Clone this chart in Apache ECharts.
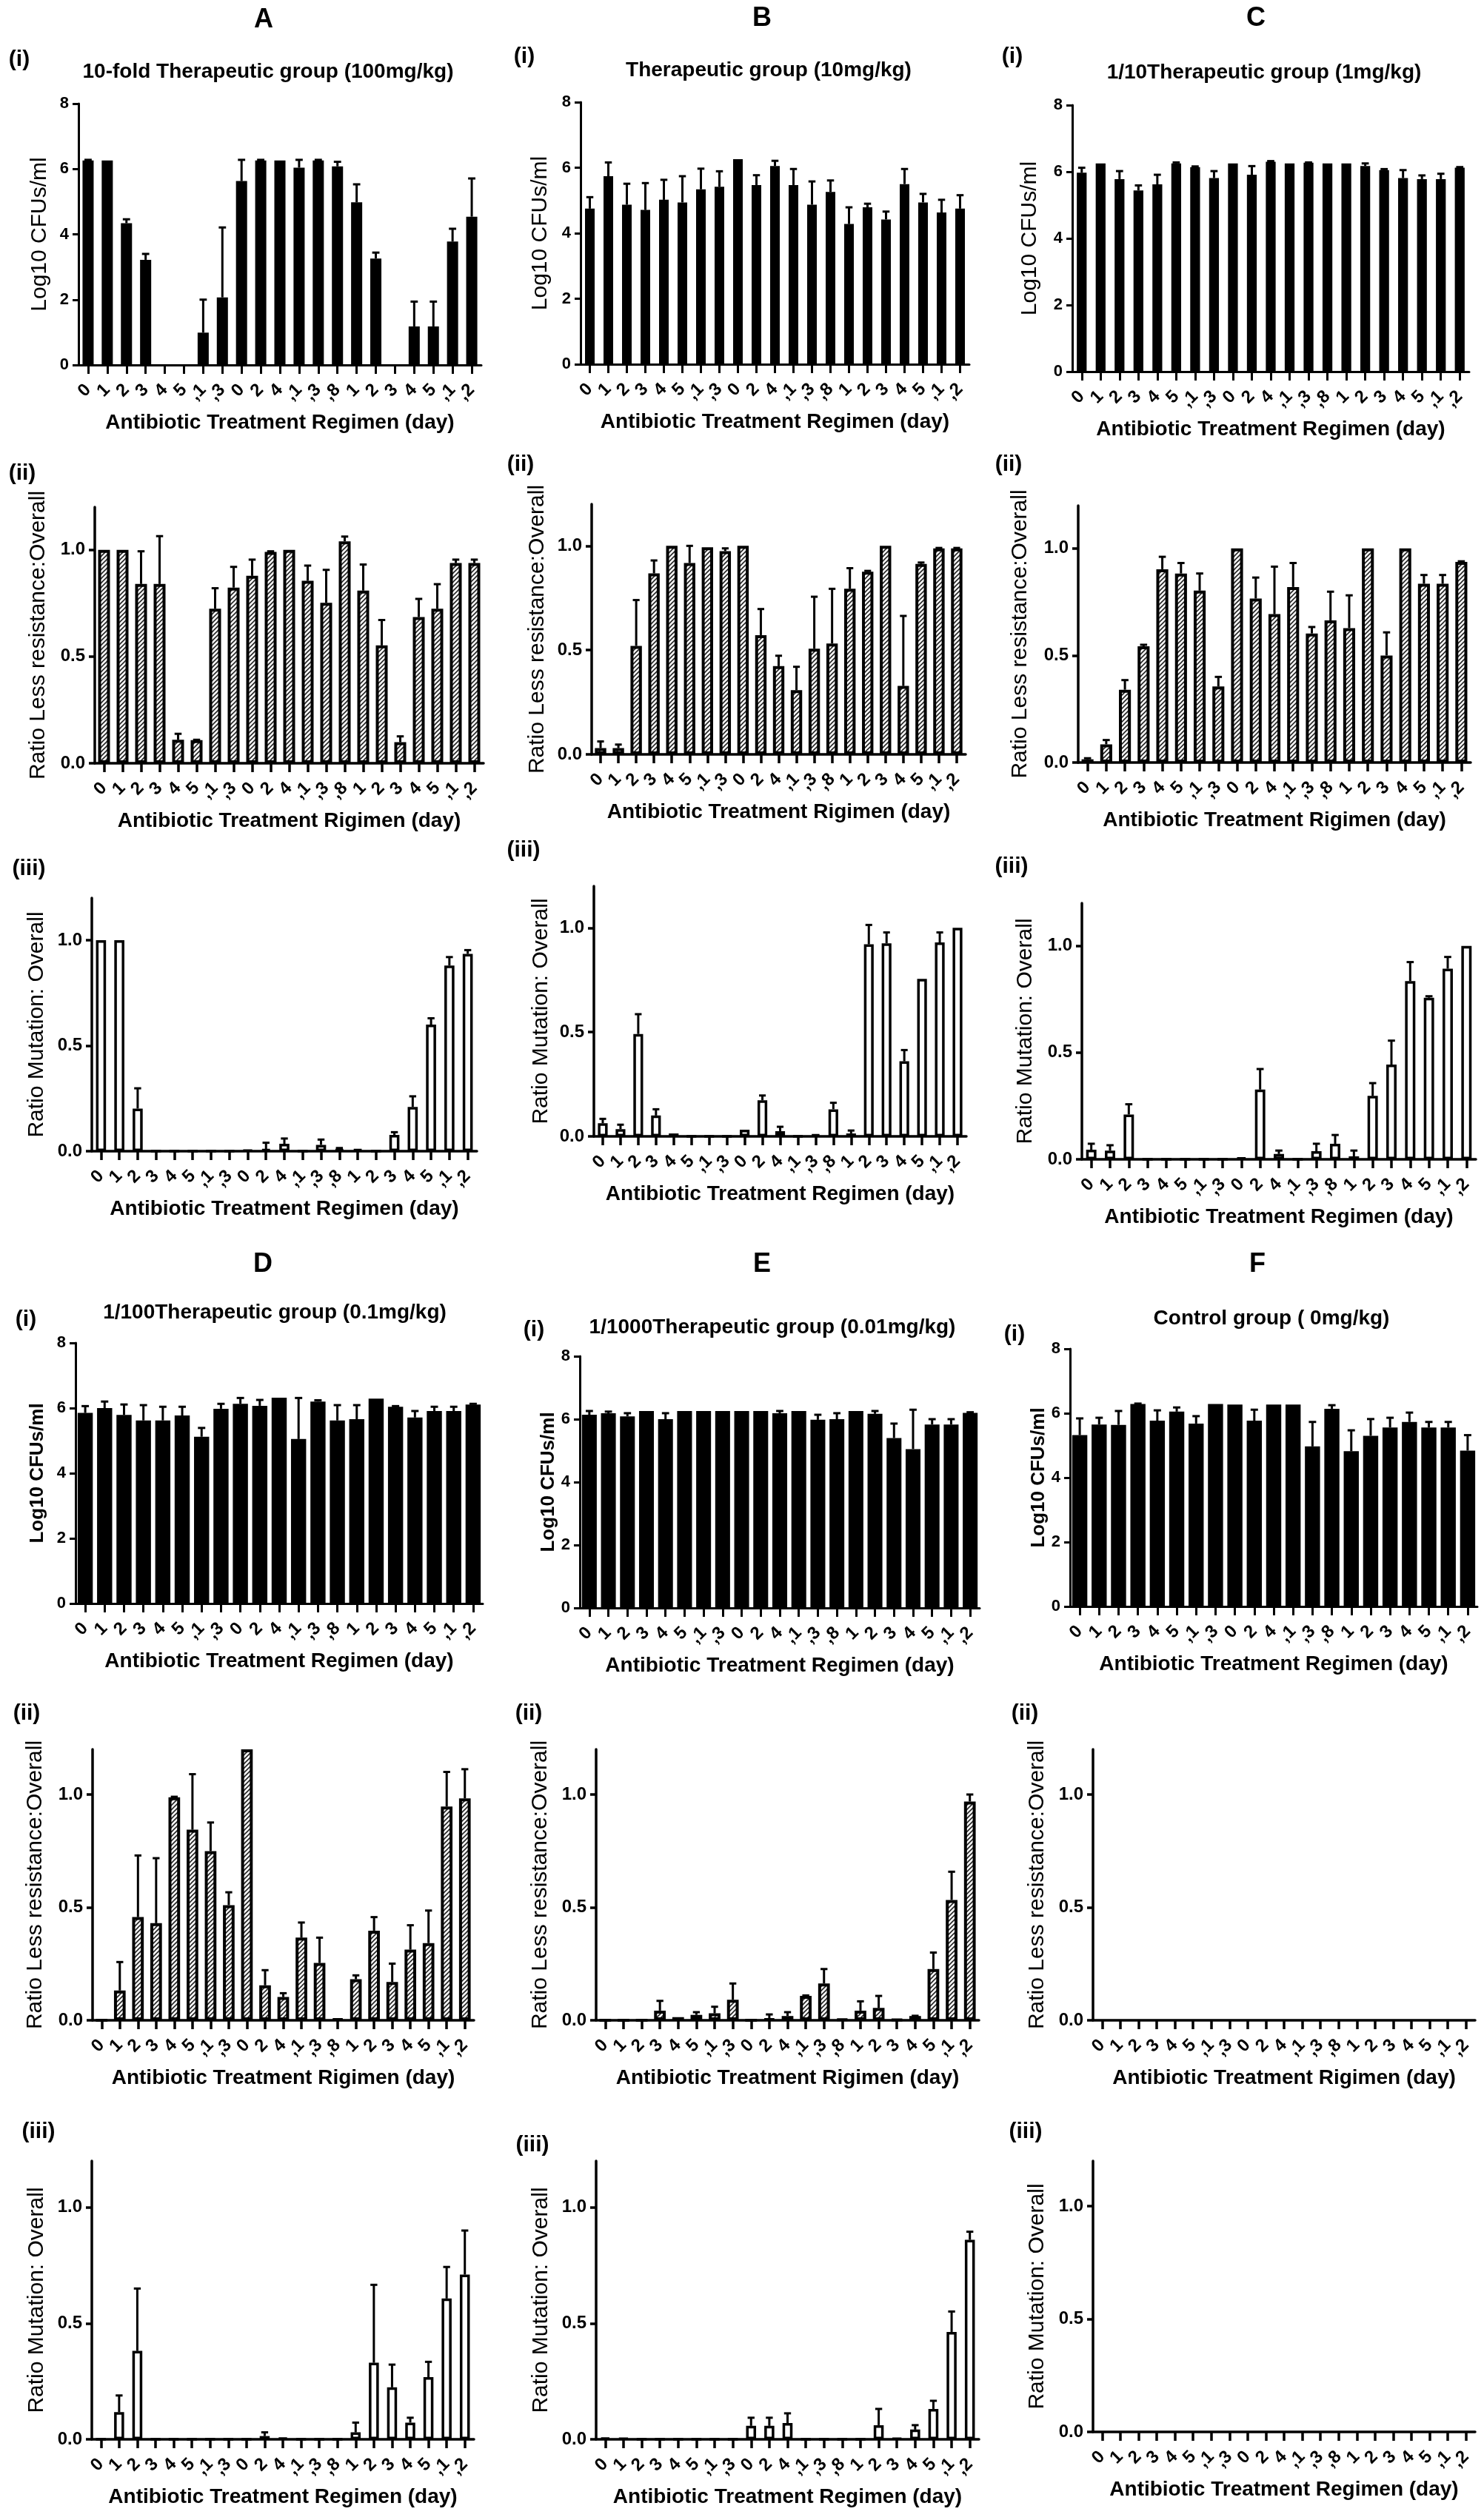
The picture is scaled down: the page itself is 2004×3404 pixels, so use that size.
<!DOCTYPE html>
<html><head><meta charset="utf-8">
<script src="https://cdn.jsdelivr.net/npm/echarts@6/dist/echarts.min.js"></script>
<style>html,body{margin:0;padding:0;background:#fff}#c{width:2004px;height:3404px}</style>
</head><body><div id="c"></div>
<script>
// ---------- DATA ----------
const days = ["0","1","2","3","4","5",",1",",3","0","2","4",",1",",3",",8","1","2","3","4","5",",1",",2"];

const aCfu    = [6.26,6.26,4.34,3.22,0,0,0.99,2.07,5.63,6.26,6.26,6.04,6.26,6.08,4.98,3.26,0,1.18,1.18,3.78,4.54];
const aCfuTop = [6.28,6.26,4.46,3.40,0,0,2.00,4.21,6.28,6.28,6.26,6.28,6.28,6.22,5.53,3.44,0,1.94,1.94,4.17,5.71];
const aLess    = [1.0,1.0,0.84,0.84,0.11,0.108,0.724,0.823,0.878,0.99,1.0,0.855,0.752,1.04,0.809,0.552,0.099,0.685,0.724,0.938,0.938];
const aLessTop = [1.0,1.0,0.993,1.064,0.138,0.11,0.82,0.92,0.954,0.993,1.0,0.926,0.906,1.062,0.931,0.671,0.126,0.77,0.839,0.954,0.954];
const aMut    = [1.0,1.0,0.202,0,0,0,0,0,0.005,0.01,0.035,0,0.03,0.01,0.01,0,0.077,0.21,0.6,0.88,0.935];
const aMutTop = [1.0,1.0,0.298,0,0,0,0,0,0.005,0.04,0.06,0,0.055,0.015,0.01,0,0.09,0.26,0.63,0.92,0.953];

const bCfu    = [4.75,5.74,4.87,4.71,5.02,4.94,5.34,5.42,6.26,5.47,6.05,5.47,4.87,5.26,4.28,4.79,4.42,5.50,4.94,4.63,4.75];
const bCfuTop = [5.10,6.16,5.51,5.53,5.63,5.74,5.97,5.89,6.26,5.77,6.21,5.96,5.58,5.61,4.79,4.90,4.66,5.96,5.20,5.02,5.16];
const bLess    = [0.03,0.03,0.52,0.868,1.0,0.918,0.993,0.975,1.0,0.572,0.423,0.308,0.507,0.532,0.794,0.876,1.0,0.328,0.913,0.988,0.988];
const bLessTop = [0.062,0.047,0.74,0.93,1.0,1.0,0.993,0.988,1.0,0.697,0.473,0.42,0.756,0.794,0.893,0.88,1.0,0.664,0.92,0.99,0.99];
const bMut    = [0.063,0.035,0.491,0.10,0.014,0,0,0,0.032,0.173,0.025,0,0.01,0.13,0.014,0.921,0.926,0.36,0.755,0.93,1.0];
const bMutTop = [0.084,0.056,0.586,0.13,0.014,0,0,0,0.032,0.196,0.046,0,0.01,0.161,0.028,1.014,0.978,0.414,0.755,0.978,1.0];

const cCfu    = [5.97,6.25,5.78,5.44,5.62,6.25,6.14,5.81,6.25,5.91,6.30,6.25,6.27,6.25,6.25,6.17,6.05,5.81,5.78,5.78,6.12];
const cCfuTop = [6.12,6.25,6.02,5.59,5.91,6.28,6.16,6.02,6.25,6.17,6.32,6.25,6.28,6.25,6.25,6.25,6.08,6.05,5.89,5.94,6.14];
const cLess    = [0.015,0.085,0.34,0.543,0.903,0.883,0.803,0.355,1.0,0.766,0.693,0.82,0.603,0.664,0.628,1.0,0.50,1.0,0.835,0.835,0.937];
const cLessTop = [0.02,0.105,0.385,0.55,0.961,0.932,0.883,0.40,1.0,0.864,0.915,0.932,0.633,0.798,0.781,1.0,0.608,1.0,0.876,0.876,0.94];
const cMut    = [0.045,0.041,0.21,0,0,0,0,0,0.008,0.327,0.025,0,0.038,0.073,0.014,0.297,0.444,0.835,0.757,0.893,1.0];
const cMutTop = [0.073,0.066,0.258,0,0,0,0,0,0.008,0.423,0.041,0,0.073,0.114,0.041,0.357,0.556,0.924,0.764,0.948,1.0];

const dCfu    = [5.85,6.0,5.79,5.62,5.62,5.77,5.12,5.98,6.13,6.07,6.32,5.05,6.2,5.62,5.66,6.29,6.04,5.71,5.91,5.91,6.11];
const dCfuTop = [6.06,6.2,6.11,6.09,6.04,6.04,5.39,6.13,6.31,6.25,6.32,6.31,6.24,6.09,6.09,6.29,6.06,5.91,6.04,6.04,6.13];
const dLess    = [0,0.132,0.457,0.43,0.988,0.844,0.749,0.51,1.2,0.155,0.103,0.366,0.254,0.007,0.182,0.397,0.17,0.313,0.342,0.947,0.983];
const dLessTop = [0,0.258,0.73,0.718,0.99,1.09,0.876,0.567,1.2,0.222,0.12,0.433,0.366,0.007,0.199,0.457,0.251,0.421,0.486,1.1,1.112];
const dMut    = [0,0.117,0.381,0,0,0,0,0,0,0.014,0.007,0,0,0,0.03,0.33,0.224,0.072,0.268,0.607,0.71];
const dMutTop = [0,0.189,0.65,0,0,0,0,0,0,0.03,0.007,0,0,0,0.072,0.666,0.322,0.093,0.334,0.743,0.9];

const eCfu    = [6.14,6.19,6.09,6.26,6.0,6.26,6.26,6.26,6.26,6.26,6.19,6.26,5.98,6.0,6.26,6.17,5.40,5.05,5.83,5.83,6.2];
const eCfuTop = [6.26,6.24,6.19,6.26,6.19,6.26,6.26,6.26,6.26,6.26,6.26,6.26,6.14,6.19,6.26,6.26,5.86,6.30,6.0,6.0,6.22];
const eLess    = [0,0,0,0.043,0.014,0.024,0.031,0.091,0,0.007,0.019,0.108,0.163,0.005,0.043,0.055,0.004,0.019,0.227,0.533,0.969];
const eLessTop = [0,0,0,0.086,0.014,0.036,0.06,0.163,0,0.026,0.036,0.11,0.227,0.005,0.084,0.108,0.004,0.02,0.30,0.658,1.0];
const eMut    = [0.007,0.004,0,0,0,0,0,0,0.058,0.058,0.07,0,0,0,0,0.061,0.004,0.042,0.131,0.463,0.86];
const eMutTop = [0.007,0.004,0,0,0,0,0,0,0.093,0.093,0.112,0,0,0,0,0.131,0.004,0.061,0.166,0.551,0.895];

const fCfu    = [5.32,5.65,5.64,6.29,5.77,6.05,5.68,6.29,6.27,5.77,6.27,6.27,4.97,6.14,4.82,5.3,5.56,5.73,5.56,5.56,4.84];
const fCfuTop = [5.84,5.86,6.07,6.3,6.09,6.18,5.91,6.29,6.27,6.11,6.27,6.27,5.73,6.25,5.47,5.82,5.86,6.02,5.73,5.73,5.32];
const fLess = [], fLessTop = [];
const fMut = [], fMutTop = [];

const cfuTicks = [0,2,4,6,8];
const ratioTicks = [0,0.5,1.0];

// ---------- LAYOUT ----------
const FONT = 'Liberation Sans, Arial, sans-serif';
const panels = [
  {k:1,v:aCfu,t:aCfuTop,L:106,R:650,T:140,B:493,g:37,bw:'58%'},
  {k:1,v:bCfu,t:bCfuTop,L:784,R:1309,T:138,B:492,g:39,bw:'52%'},
  {k:1,v:cCfu,t:cCfuTop,L:1448,R:1984,T:142,B:502,g:42,bw:'52%'},
  {k:2,v:aLess,t:aLessTop,L:128,R:653,T:685,B:1031,g:61,bw:'64%'},
  {k:2,v:bLess,t:bLessTop,L:799,R:1304,T:681,B:1019,g:58,bw:'64%'},
  {k:2,v:cLess,t:cLessTop,L:1456,R:1986,T:683,B:1030,g:63,bw:'64%'},
  {k:3,v:aMut,t:aMutTop,L:124,R:644,T:1213,B:1555,g:59,bw:'55%'},
  {k:3,v:bMut,t:bMutTop,L:802,R:1305,T:1197,B:1535,g:56,bw:'55%'},
  {k:3,v:cMut,t:cMutTop,L:1461,R:1993,T:1220,B:1566,g:61,bw:'55%'},
  {k:1,v:dCfu,t:dCfuTop,L:102,R:652,T:1814,B:2166,g:38,bw:'78%',bold:true},
  {k:1,v:eCfu,t:eCfuTop,L:783,R:1323,T:1832,B:2172,g:28,bw:'78%',bold:true},
  {k:1,v:fCfu,t:fCfuTop,L:1445,R:1995,T:1822,B:2170,g:25,bw:'78%',bold:true},
  {k:2,v:dLess,t:dLessTop,L:125,R:640,T:2363,B:2729,g:62,bw:'64%'},
  {k:2,v:eLess,t:eLessTop,L:805,R:1322,T:2363,B:2729,g:60,bw:'64%'},
  {k:2,v:fLess,t:fLessTop,L:1476,R:1992,T:2363,B:2729,g:60,bw:'64%'},
  {k:3,v:dMut,t:dMutTop,L:124,R:640,T:2919,B:3295,g:59,bw:'55%'},
  {k:3,v:eMut,t:eMutTop,L:805,R:1322,T:2919,B:3295,g:59,bw:'55%'},
  {k:3,v:fMut,t:fMutTop,L:1476,R:1992,T:2919,B:3285,g:60,bw:'55%'}
];

const letters = [['A',356,27],['B',1029,25],['C',1696,25],['D',355,1708],['E',1029,1708],['F',1698,1708]];
const subtitles = [
  ['10-fold Therapeutic group (100mg/kg)',362,97],
  ['Therapeutic group (10mg/kg)',1038,95],
  ['1/10Therapeutic group (1mg/kg)',1707,98],
  ['1/100Therapeutic group (0.1mg/kg)',371,1773],
  ['1/1000Therapeutic group (0.01mg/kg)',1043,1793],
  ['Control group ( 0mg/kg)',1717,1781]
];
const romans = [
  ['(i)',26,81],['(i)',708,77],['(i)',1367,77],
  ['(ii)',30,640],['(ii)',703,628],['(ii)',1362,628],
  ['(iii)',39,1174],['(iii)',707,1149],['(iii)',1366,1171],
  ['(i)',35,1783],['(i)',721,1797],['(i)',1370,1803],
  ['(ii)',36,2315],['(ii)',714,2315],['(ii)',1384,2315],
  ['(iii)',52,2880],['(iii)',719,2898],['(iii)',1385,2880]
];

// hatch pattern
const pc = document.createElement('canvas'); pc.width = 6; pc.height = 6;
const g2 = pc.getContext('2d');
g2.fillStyle = '#fff'; g2.fillRect(0,0,6,6);
g2.strokeStyle = '#222'; g2.lineWidth = 1.6;
g2.beginPath(); g2.moveTo(0,6); g2.lineTo(6,0); g2.moveTo(-1,1); g2.lineTo(1,-1); g2.moveTo(5,7); g2.lineTo(7,5); g2.stroke();
const hatch = {image: pc, repeat: 'repeat'};

const grids = [], xAxes = [], yAxes = [], series = [];
panels.forEach((p, i) => {
  const isCfu = p.k===1;
  const lw = isCfu ? 3 : 3.5;
  grids.push({left:p.L, top:p.T, width:p.R-p.L, height:p.B-p.T, containLabel:false, outerBoundsMode:'none'});
  xAxes.push({
    type:'category', gridIndex:i, data:days.slice(0,21),
    name: p.k===2 ? 'Antibiotic Treatment Rigimen (day)' : 'Antibiotic Treatment Regimen (day)',
    nameLocation:'middle', nameGap:64,
    nameTextStyle:{fontFamily:FONT, fontWeight:'bold', fontSize:28, color:'#000'},
    axisLine:{show:true, lineStyle:{color:'#000', width:lw}},
    axisTick:{show:true, alignWithLabel:true, length:12, lineStyle:{color:'#000', width:lw}},
    axisLabel:{interval:0, rotate:45, margin:30, fontFamily:FONT, fontWeight:'bold', fontSize:24, color:'#000'},
    splitLine:{show:false}
  });
  yAxes.push({
    type:'value', gridIndex:i, min:0, max: isCfu ? 8 : 1.2, interval: isCfu ? 2 : 0.5,
    name: isCfu ? 'Log10 CFUs/ml' : (p.k===2 ? 'Ratio Less resistance:Overall' : 'Ratio Mutation: Overall'),
    nameLocation:'middle', nameGap:p.g, nameRotate:90,
    nameTextStyle:{fontFamily:FONT, fontWeight: p.bold ? 'bold':'normal', fontSize: p.bold ? 26 : 30, color:'#000'},
    axisLine:{show:true, onZero:false, lineStyle:{color:'#000', width:lw}},
    axisTick:{show:true, length:8, lineStyle:{color:'#000', width:lw}, customValues: isCfu ? cfuTicks : ratioTicks},
    axisLabel:{show:true, margin:13, fontFamily:FONT, fontWeight:'bold', fontSize: isCfu ? 22 : 24, color:'#000',
      customValues: isCfu ? cfuTicks : ratioTicks,
      formatter: v => isCfu ? String(v) : Number(v).toFixed(1)},
    splitLine:{show:false}
  });
  const style = p.k===1 ? {color:'#000'} :
               p.k===2 ? {color:hatch, borderColor:'#000', borderWidth:4} :
                         {color:'#fff', borderColor:'#000', borderWidth:3.5};
  series.push({type:'bar', xAxisIndex:i, yAxisIndex:i, data:p.v, barWidth:p.bw, itemStyle:style, silent:true, animation:false, z:2});
  series.push({
    type:'custom', xAxisIndex:i, yAxisIndex:i, silent:true, animation:false, z:3,
    data: p.v.map((m, k) => [k, m, p.t[k]]),
    renderItem: (params, api) => {
      const k = api.value(0), m = api.value(1), t = api.value(2);
      if (!(t > m + 1e-9)) return null;
      const p0 = api.coord([k, m]), p1 = api.coord([k, t]);
      const half = api.size([1, 0])[0] * 0.19;
      return {type:'group', children:[
        {type:'line', shape:{x1:p0[0], y1:p0[1], x2:p1[0], y2:p1[1]}, style:{stroke:'#000', lineWidth:3}},
        {type:'line', shape:{x1:p1[0]-half, y1:p1[1], x2:p1[0]+half, y2:p1[1]}, style:{stroke:'#000', lineWidth:3}}
      ]};
    }
  });
});

const graphics = [];
letters.forEach(([t,x,y]) => graphics.push({type:'text', x, y, style:{text:t, fill:'#000', font:`bold 36px ${FONT}`, textAlign:'center', textVerticalAlign:'middle'}}));
subtitles.forEach(([t,x,y]) => graphics.push({type:'text', x, y, style:{text:t, fill:'#000', font:`bold 28px ${FONT}`, textAlign:'center', textVerticalAlign:'middle'}}));
romans.forEach(([t,x,y]) => graphics.push({type:'text', x, y, style:{text:t, fill:'#000', font:`bold 30px ${FONT}`, textAlign:'center', textVerticalAlign:'middle'}}));

const chart = echarts.init(document.getElementById('c'), null, {renderer:'canvas'});
chart.setOption({
  backgroundColor:'#fff', animation:false,
  grid:grids, xAxis:xAxes, yAxis:yAxes, series, graphic:graphics
});
</script></body></html>
